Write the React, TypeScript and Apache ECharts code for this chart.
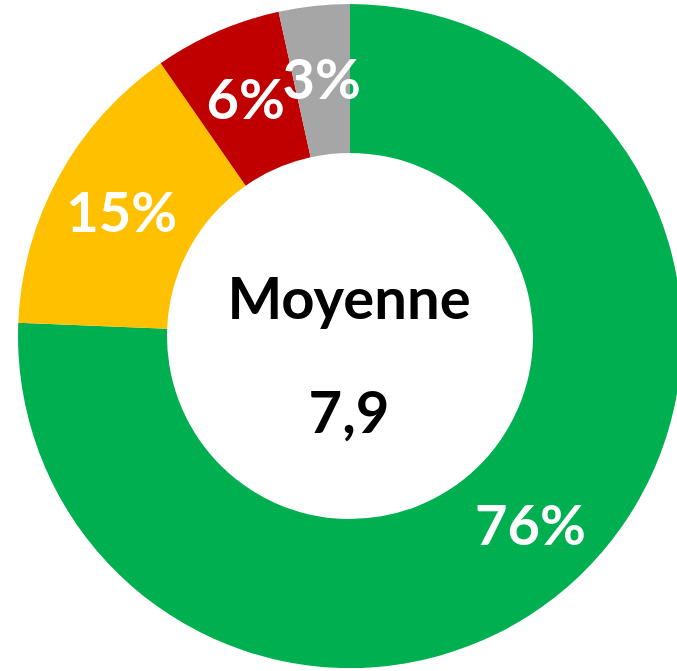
import React, { useEffect, useRef } from "react";
import * as echarts from "echarts";

const categories = ["Vert", "Jaune", "Rouge", "Gris"];
const values = [75.6, 14.7, 6.2, 3.45];
const colors = ["#00B050", "#FFC000", "#C00000", "#A6A6A6"];
const centerTitle = "Moyenne";
const centerValue = "7,9";

export default function App() {
  const ref = useRef<HTMLDivElement>(null);
  useEffect(() => {
    document.body.style.margin = "0";
    const chart = echarts.init(ref.current!, null, { renderer: "svg" });
    chart.setOption({
      animation: false,
      backgroundColor: "#FFFFFF",
      graphic: [
        {
          type: "text",
          x: 349,
          y: 296,
          style: {
            text: centerTitle,
            font: "bold 58px Lato",
            fill: "#000000",
            align: "center",
            verticalAlign: "middle",
          },
        },
        {
          type: "text",
          x: 349,
          y: 410,
          style: {
            text: centerValue,
            font: "bold 58px Lato",
            fill: "#000000",
            align: "center",
            verticalAlign: "middle",
          },
        },
      ],
      series: [
        {
          type: "pie",
          center: [350, 336],
          radius: [183, 332],
          startAngle: 90,
          clockwise: true,
          avoidLabelOverlap: false,
          label: {
            show: true,
            position: "inside",
            formatter: (p: any) => Math.round(p.value) + "%",
            color: "#FFFFFF",
            fontFamily: "Lato",
            fontWeight: "bold",
            fontSize: 56,
          },
          labelLine: { show: false },
          labelLayout: { hideOverlap: false },
          emphasis: { disabled: true },
          data: categories.map((name, i) => ({
            name,
            value: values[i],
            itemStyle: { color: colors[i] },
            label:
              values[i] < 5
                ? { width: 8, height: 8, lineHeight: 8, overflow: "none", align: "center", verticalAlign: "middle" }
                : undefined,
          })),
        },
      ],
    });
    return () => chart.dispose();
  }, []);
  return (
    <div
      ref={ref}
      style={{ position: "absolute", left: 0, top: 0, width: 677, height: 671 }}
    />
  );
}
